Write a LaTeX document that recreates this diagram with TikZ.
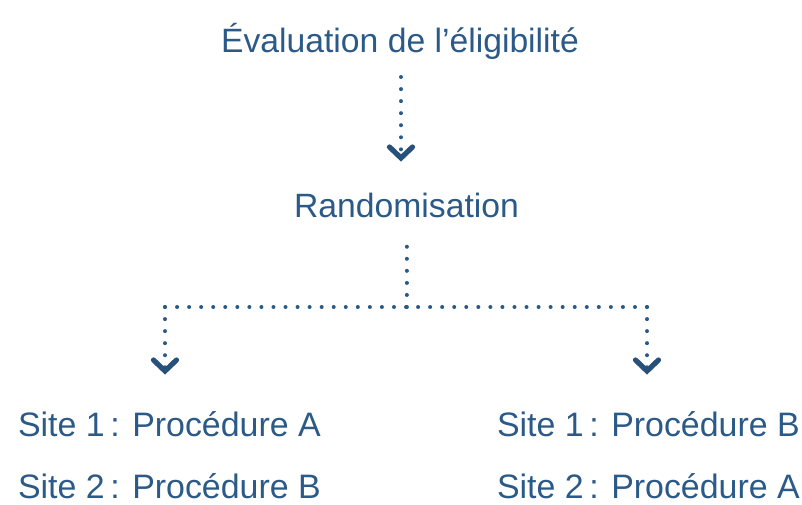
\documentclass[tikz,border=0pt]{standalone}
\usepackage{fontspec}
\setmainfont{Liberation Sans}
\usetikzlibrary{calc}
\definecolor{navy}{HTML}{2B5A88}
\begin{document}
\begin{tikzpicture}[x=1pt,y=-1pt,
  lbl/.style={inner sep=0pt,outer sep=0pt,text=navy,font=\fontsize{33.7}{40}\selectfont},
  site/.style={lbl,anchor=base west,font=\fontsize{33.9}{40}\selectfont},
  dotline/.style={draw=navy,line width=4pt,line cap=round,dash pattern=on 0.01pt off 12.04pt},
  chevron/.style={draw=navy!90!black,line width=5.2pt,line cap=round,line join=miter}]
\useasboundingbox (0,0) rectangle (802,504);
\node[lbl,anchor=base] (title) at (400,52) {Évaluation de l’éligibilité};
\node[lbl,anchor=base] (rand) at (406.5,217) {Randomisation};
\node[site] (s1a) at (18,436.5) {Site 1\,: Procédure A};
\node[site] (s2b) at (18,498.5) {Site 2\,: Procédure B};
\node[site] (s1b) at (497,436.5) {Site 1\,: Procédure B};
\node[site] (s2a) at (497,498.5) {Site 2\,: Procédure A};
\coordinate (t0) at (401,77);
\coordinate (t1) at (401,158);
\coordinate (j) at (406.5,307);
\coordinate (L) at (165,307);
\coordinate (R) at (647,307);
\coordinate (Le) at (165,371);
\coordinate (Re) at (647,371);
\draw[dotline] (t0) -- (t1);
\draw[dotline,shorten >=25pt] (j) -- (rand.south);
\draw[dotline] (L) -- (R);
\draw[dotline] (L) -- (Le);
\draw[dotline] (R) -- (Re);
\foreach \p in {t1,Le,Re}
  \draw[chevron] ($(\p)+(-11.5,-11)$) -- (\p) -- ($(\p)+(11.5,-11)$);
\end{tikzpicture}
\end{document}
